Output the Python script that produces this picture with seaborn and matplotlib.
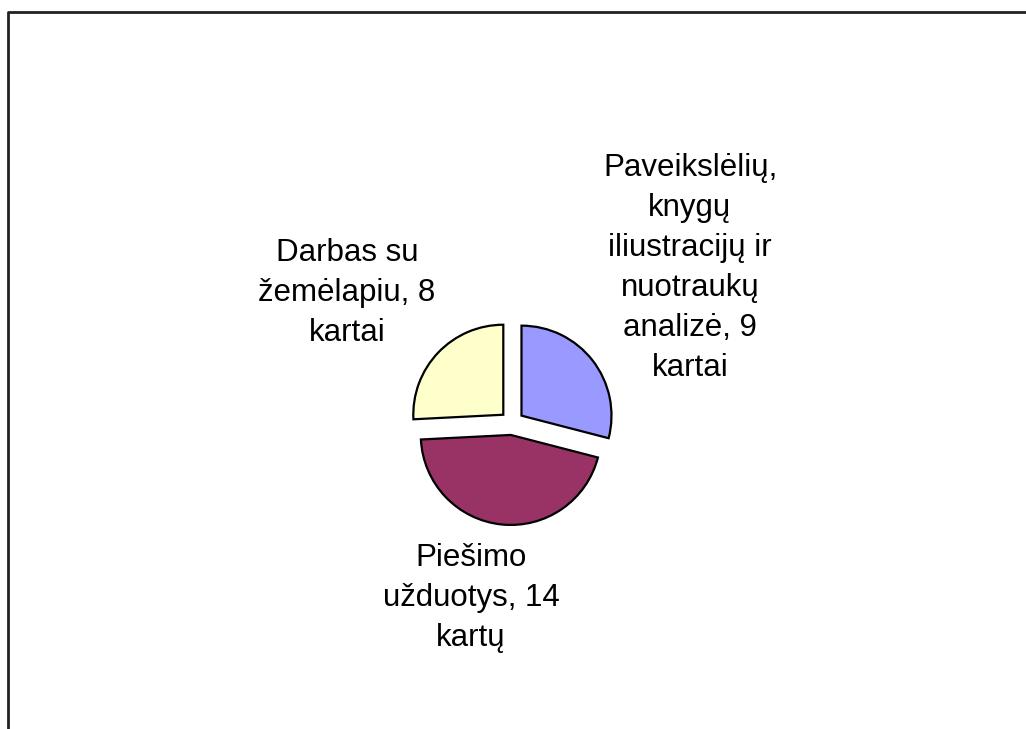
"""Pie chart of activity types (Lithuanian labels), redrawn with seaborn/matplotlib."""
import seaborn as sns
import matplotlib.pyplot as plt

# data
labels = ["Paveikslėlių,\nknygų\niliustracijų ir\nnuotraukų\nanalizė, 9\nkartai",
          "Piešimo\nužduotys, 14\nkartų",
          "Darbas su\nžemėlapiu, 8\nkartai"]
counts = [9, 14, 8]
colors = ["#9999FF", "#993366", "#FFFFCC"]

sns.set_theme(style="white")
plt.rcParams['font.family'] = ['Liberation Sans', 'DejaVu Sans']

fig = plt.figure(figsize=(10.26, 7.29), dpi=100)
ax = fig.add_axes([0, 0, 1, 1])

# pie in pixel units so the layout lines up with the reference
# (explode is an absolute offset here, in the same units as radius)
wedges, _ = ax.pie(counts, colors=colors, startangle=90, counterclock=False,
                   explode=[12, 12, 12], center=(512, 306), radius=90,
                   wedgeprops=dict(edgecolor='black', linewidth=1.6))
ax.set_xlim(0, 1026)
ax.set_ylim(0, 729)
ax.set_aspect('equal')
ax.axis('off')

# label positions (pixel coords, y up)
label_pos = [(690, 461), (471, 131), (347, 436)]
for text, (x, y) in zip(labels, label_pos):
    ax.text(x, y, text, ha='center', va='center', fontsize=22.5,
            linespacing=1.43, color='black')

# chart-area frame (only left and top edges visible)
ax.plot([7.5, 7.5, 1030], [-5, 717, 717], color='#222222', lw=2,
        solid_capstyle='butt', clip_on=False)

fig.savefig("out.png", dpi=100)
